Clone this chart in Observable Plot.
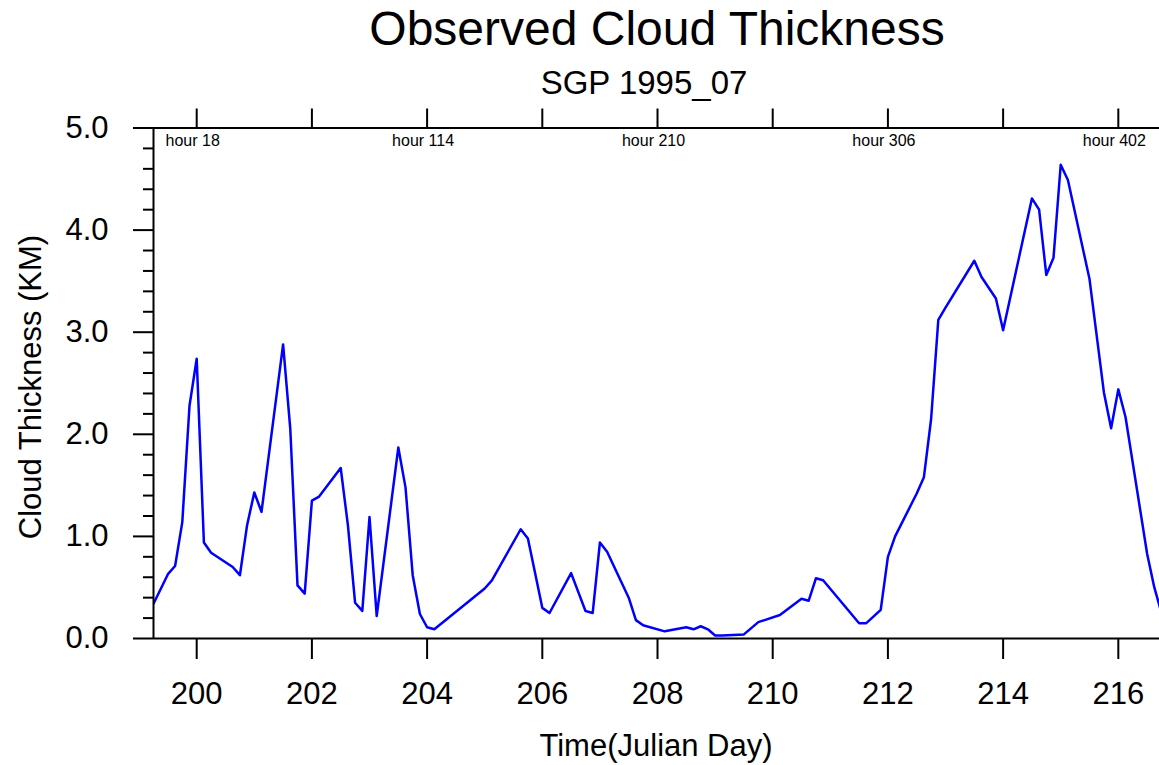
<!DOCTYPE html>
<html>
<head>
<meta charset="utf-8">
<script src="https://cdn.jsdelivr.net/npm/d3@7"></script>
<script src="https://cdn.jsdelivr.net/npm/@observablehq/plot@0.6"></script>
<style>
  html, body { margin: 0; padding: 0; background: #fff; overflow: hidden; }
  #wrap { position: relative; width: 1159px; height: 765px; font-family: "Liberation Sans", Arial, Helvetica, sans-serif; color: #000; }
  .lbl { position: absolute; white-space: nowrap; line-height: 1; }
</style>
</head>
<body>
<div id="wrap">
  <div class="lbl" id="title" style="font-size:48px; top:5px; left:657px; transform:translateX(-50%);">Observed Cloud Thickness</div>
  <div class="lbl" id="subtitle" style="font-size:33px; top:66px; left:644px; transform:translateX(-50%);">SGP 1995_07</div>
  <div class="lbl" id="xlabel" style="font-size:31px; top:730px; left:656px; transform:translateX(-50%);">Time(Julian Day)</div>
  <div class="lbl" id="ylabel" style="font-size:31px; top:387px; left:30px; transform:translate(-50%,-50%) rotate(-90deg);">Cloud Thickness (KM)</div>
</div>
<script>
// Julian day of each observation
const days = [
  199.25, 199.5, 199.625, 199.75, 199.875, 200.0, 200.125, 200.25, 200.625, 200.75,
  200.875, 201.0, 201.125, 201.5, 201.625, 201.75, 201.875, 202.0, 202.125, 202.5,
  202.625, 202.75, 202.875, 203.0, 203.125, 203.5, 203.625, 203.75, 203.875, 204.0,
  204.125, 205.0, 205.125, 205.625, 205.75, 206.0, 206.125, 206.5, 206.75, 206.875,
  207.0, 207.125, 207.5, 207.625, 207.75, 208.125, 208.5, 208.625, 208.75, 208.875,
  209.0, 209.125, 209.5, 209.75, 210.125, 210.5, 210.625, 210.75, 210.875, 211.5,
  211.625, 211.875, 212.0, 212.125, 212.5, 212.625, 212.75, 212.875, 213.0, 213.5,
  213.625, 213.875, 214.0, 214.5, 214.625, 214.75, 214.875, 215.0, 215.125, 215.5,
  215.75, 215.875, 216.0, 216.125, 216.5, 216.625, 216.75
];
// Cloud thickness (km)
const thickness = [
  0.34, 0.63, 0.71, 1.14, 2.28, 2.74, 0.94, 0.84, 0.70, 0.62,
  1.11, 1.43, 1.24, 2.88, 2.05, 0.52, 0.44, 1.35, 1.39, 1.67,
  1.11, 0.35, 0.27, 1.19, 0.22, 1.87, 1.48, 0.62, 0.24, 0.11,
  0.09, 0.49, 0.57, 1.07, 0.98, 0.30, 0.25, 0.64, 0.27, 0.25,
  0.94, 0.85, 0.40, 0.18, 0.13, 0.07, 0.11, 0.09, 0.12, 0.09,
  0.03, 0.03, 0.04, 0.16, 0.23, 0.39, 0.37, 0.59, 0.57, 0.15,
  0.15, 0.28, 0.80, 1.00, 1.42, 1.58, 2.15, 3.12, 3.24, 3.70,
  3.54, 3.33, 3.02, 4.31, 4.20, 3.56, 3.73, 4.64, 4.49, 3.52,
  2.41, 2.06, 2.44, 2.17, 0.83, 0.50, 0.25
];
const xDomain = [199.25, 216.715];
const yDomain = [0, 5];
const xTicks = [200, 202, 204, 206, 208, 210, 212, 214, 216];
const yTicks = [0, 1, 2, 3, 4, 5];
const yMinorTicks = [0.2,0.4,0.6,0.8,1.2,1.4,1.6,1.8,2.2,2.4,2.6,2.8,3.2,3.4,3.6,3.8,4.2,4.4,4.6,4.8];
const hourTickDays = [200, 204, 208, 212, 216];
const hourLabels = ["hour 18", "hour 114", "hour 210", "hour 306", "hour 402"];

const series = days.map((d, i) => ({day: d, value: thickness[i]}));
const hourData = hourTickDays.map((d, i) => ({day: d, label: hourLabels[i]}));

const chart = Plot.plot({
  width: 1159,
  height: 765,
  marginLeft: 153,
  marginRight: 0,
  marginTop: 127.5,
  marginBottom: 127,
  style: {fontFamily: '"Liberation Sans", Arial, Helvetica, sans-serif', fontSize: "31px", color: "#000", background: "transparent"},
  x: {domain: xDomain},
  y: {domain: yDomain},
  marks: [
    Plot.line(series, {x: "day", y: "value", stroke: "#0000ff", strokeWidth: 2.5, clip: true}),
    Plot.ruleY(yDomain, {stroke: "#000", strokeWidth: 2}),
    Plot.ruleX([xDomain[0]], {stroke: "#000", strokeWidth: 2}),
    Plot.axisY({ticks: yTicks, tickSize: 20, tickPadding: 25, tickFormat: d => d.toFixed(1), label: null, strokeWidth: 2, fontSize: 31}),
    Plot.axisY({ticks: yMinorTicks, tickSize: 10, tickFormat: () => "", label: null, strokeWidth: 2}),
    Plot.axisX({ticks: xTicks, tickSize: 21, tickPadding: 22, tickFormat: d => String(d), label: null, strokeWidth: 2, fontSize: 31}),
    Plot.axisX({anchor: "top", ticks: xTicks, tickSize: 20, tickFormat: () => "", label: null, strokeWidth: 2}),
    Plot.text(hourData, {x: "day", text: "label", frameAnchor: "top", lineAnchor: "top", dy: 7, dx: -4, fontSize: 16})
  ]
});
chart.style.position = "absolute";
chart.style.left = "0px";
chart.style.top = "0px";
document.getElementById("wrap").prepend(chart);
</script>
</body>
</html>
